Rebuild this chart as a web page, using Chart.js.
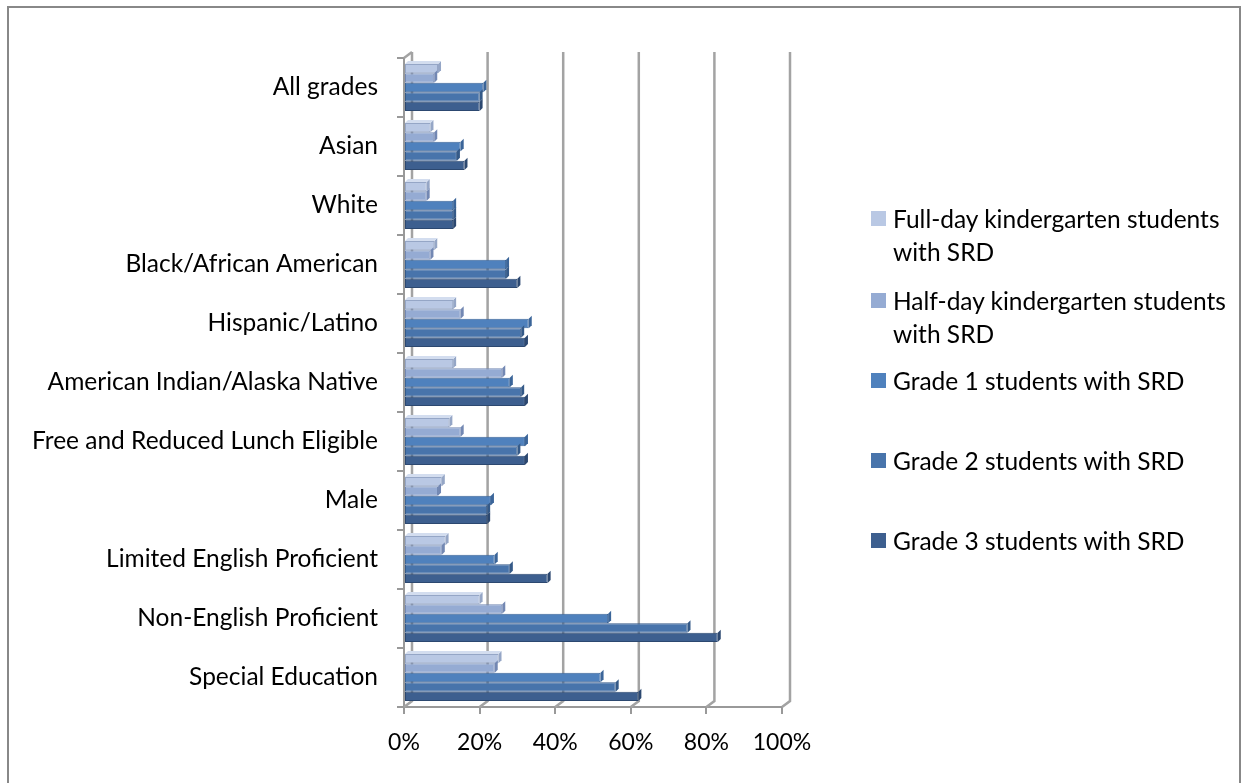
<!DOCTYPE html>
<html>
<head>
<meta charset="utf-8">
<script src="https://cdn.jsdelivr.net/npm/chart.js@4.4.1/dist/chart.umd.min.js"></script>
<style>
  html, body { margin: 0; padding: 0; background: #fff; }
  body { width: 1251px; height: 783px; position: relative; overflow: hidden; font-family: Lato, "Open Sans", sans-serif; }
  #frame { position: absolute; left: 7px; top: 6px; width: 1230px; height: 820px; border: 2px solid #888; }
  #wrap { position: absolute; left: 0; top: 0; width: 1251px; height: 783px; }
  #legend { position: absolute; left: 871px; top: 202px; }
  .item { position: relative; height: 80px; }
  .item:first-child { height: 82px; }
  .box { position: absolute; left: 0; top: 9px; width: 15px; height: 15px; }
  .txt { position: absolute; left: 22px; top: 0; width: 350px; font-size: 24.5px; line-height: 33px; color: #000; }
</style>
</head>
<body>
<div id="frame"></div>
<div id="wrap"><canvas id="chart" width="1251" height="783"></canvas></div>
<div id="legend"></div>
<script>
const categories = [
    "All grades", "Asian", "White", "Black/African American", "Hispanic/Latino",
    "American Indian/Alaska Native", "Free and Reduced Lunch Eligible", "Male",
    "Limited English Proficient", "Non-English Proficient", "Special Education"
];
const seriesNames = [
    "Full-day kindergarten students with SRD",
    "Half-day kindergarten students with SRD",
    "Grade 1 students with SRD",
    "Grade 2 students with SRD",
    "Grade 3 students with SRD"
];
const fullDay = [9, 7, 6, 8, 13, 13, 12, 10, 11, 20, 25];
const halfDay = [8, 8, 6, 7, 15, 26, 15, 9, 10, 26, 24];
const grade1 = [21, 15, 13, 27, 33, 28, 32, 23, 24, 54, 52];
const grade2 = [20, 14, 13, 27, 31, 31, 30, 22, 28, 75, 56];
const grade3 = [20, 16, 13, 30, 32, 32, 32, 22, 38, 83, 62];
const xTicks = [0, 20, 40, 60, 80, 100];

const colours = ["#b9c8e4", "#95abd3", "#4f81bd", "#4874ab", "#3d5f8f"];
const sides = ["#95a6c6", "#7388b3", "#3b6599", "#355a88", "#2c4870"];

const wallPlugin = {
    id: "walls",
    beforeDatasetsDraw(chart) {
        const { ctx, chartArea: a, scales: { x } } = chart;
        const dx = 8, dy = 6;
        ctx.save();
        ctx.strokeStyle = "#a3a3a3";
        ctx.lineWidth = 2.5;
        xTicks.forEach(v => {
            const px = x.getPixelForValue(v);
            ctx.beginPath();
            ctx.moveTo(px, a.bottom);
            ctx.lineTo(px + dx, a.bottom - dy);
            ctx.lineTo(px + dx, a.top - dy);
            ctx.stroke();
        });
        const x0 = x.getPixelForValue(0);
        ctx.beginPath();
        ctx.moveTo(x0, a.top);
        ctx.lineTo(x0 + dx, a.top - dy);
        ctx.stroke();
        ctx.restore();
    }
};

// small right-hand face on each bar to mimic the 3D look
const depthPlugin = {
    id: "depth",
    afterDatasetsDraw(chart) {
        const ctx = chart.ctx;
        const d = 3;
        chart.data.datasets.forEach((ds, i) => {
            chart.getDatasetMeta(i).data.forEach(bar => {
                const { x, y, base, height } = bar.getProps(["x", "y", "base", "height"], true);
                const top = y - height / 2, bottom = y + height / 2;
                ctx.save();
                ctx.fillStyle = sides[i];
                ctx.beginPath();
                ctx.moveTo(x, top);
                ctx.lineTo(x + d, top - d);
                ctx.lineTo(x + d, bottom - d);
                ctx.lineTo(x, bottom);
                ctx.closePath();
                ctx.fill();
                if (i === 0) {
                    ctx.fillStyle = "#d3ddef";
                    ctx.beginPath();
                    ctx.moveTo(base, top);
                    ctx.lineTo(base + d, top - d);
                    ctx.lineTo(x + d, top - d);
                    ctx.lineTo(x, top);
                    ctx.closePath();
                    ctx.fill();
                }
                ctx.restore();
            });
        });
    }
};

const allSeries = [fullDay, halfDay, grade1, grade2, grade3];

const chart = new Chart(document.getElementById("chart"), {
    type: "bar",
    data: {
        labels: categories,
        datasets: allSeries.map((vals, i) => ({
            label: seriesNames[i],
            data: vals,
            backgroundColor: colours[i],
            borderColor: sides[i],
            borderWidth: 1,
            borderSkipped: false,
            categoryPercentage: 0.8,
            barPercentage: 1.0
        }))
    },
    options: {
        indexAxis: "y",
        responsive: false,
        animation: false,
        layout: { padding: { top: 58, right: 469, left: 0, bottom: 0 } },
        plugins: {
            legend: { display: false },
            tooltip: { enabled: false }
        },
        scales: {
            x: {
                min: 0,
                max: 100,
                ticks: {
                    stepSize: 20,
                    callback: v => v + "%",
                    color: "#000",
                    padding: 15,
                    font: { family: "Lato", size: 23 }
                },
                grid: { drawOnChartArea: false, tickLength: 7, color: "#999", lineWidth: 2 },
                border: { color: "#999", width: 2 },
                afterFit: s => { s.height = 76; }
            },
            y: {
                ticks: {
                    color: "#000",
                    padding: 19,
                    font: { family: "Lato", size: 24.5 }
                },
                grid: { drawOnChartArea: false, offset: true, tickLength: 7, color: "#999", lineWidth: 2 },
                border: { color: "#999", width: 2 },
                afterFit: s => { s.width = 404; }
            }
        }
    },
    plugins: [wallPlugin, depthPlugin]
});

const legend = document.getElementById("legend");
chart.data.datasets.forEach(ds => {
    const item = document.createElement("div");
    item.className = "item";
    item.innerHTML = `<span class="box" style="background:${ds.backgroundColor}"></span><span class="txt">${ds.label}</span>`;
    legend.appendChild(item);
});
</script>
</body>
</html>
